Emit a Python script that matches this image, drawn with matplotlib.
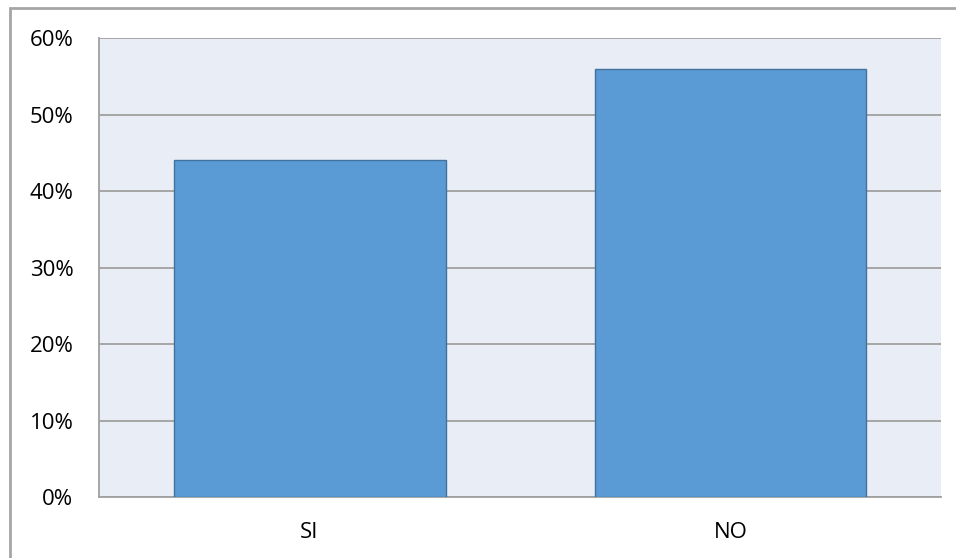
import matplotlib.pyplot as plt
from matplotlib.patches import Rectangle
from matplotlib.ticker import PercentFormatter

# data
categories = ["SI", "NO"]
values = [44, 56]

plt.rcParams["font.family"] = ["Open Sans", "DejaVu Sans"]

fig = plt.figure(figsize=(9.56, 5.58), dpi=100)
ax = fig.add_axes([0.1036, 0.1093, 0.8807, 0.8226])

# outer chart border (left and top visible)
fig.add_artist(Rectangle((10 / 956, -0.1), 2.0, 1.1 - 8 / 558,
                         transform=fig.transFigure, fill=False,
                         edgecolor="#A6A6A6", linewidth=2))

ax.set_facecolor("#E9EDF6")
ax.bar(range(len(categories)), values, width=0.646, color="#5B9BD5",
       edgecolor="#41719C", linewidth=1, zorder=3)

ax.set_xlim(-0.5, 1.5)
ax.set_ylim(0, 60)
ax.set_yticks(range(0, 61, 10))
ax.yaxis.set_major_formatter(PercentFormatter(decimals=0))
ax.set_xticks(range(len(categories)))
ax.set_xticklabels(categories)

ax.grid(axis="y", color="#A0A0A0", linewidth=1.3, zorder=1)
ax.tick_params(axis="both", length=0, labelsize=16, colors="black")
ax.tick_params(axis="y", pad=18.5)
ax.tick_params(axis="x", pad=18)

for side in ["top", "right"]:
    ax.spines[side].set_visible(False)
for side in ["left", "bottom"]:
    ax.spines[side].set_color("#A0A0A0")
    ax.spines[side].set_linewidth(1.3)

fig.savefig("out.png", dpi=100)
